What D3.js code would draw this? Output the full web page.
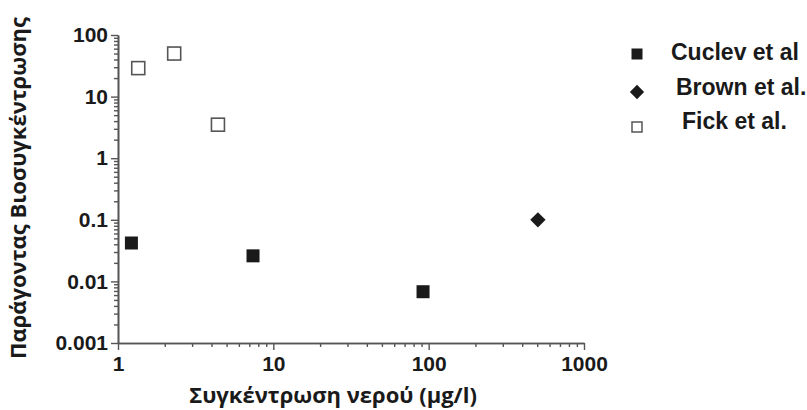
<!DOCTYPE html>
<html>
<head>
<meta charset="utf-8">
<script src="https://cdn.jsdelivr.net/npm/d3@7"></script>
<style>
  html, body { margin: 0; padding: 0; background: #fff; }
  svg { display: block; }
</style>
</head>
<body>
<svg id="chart" width="807" height="410"></svg>
<script>
// ---- data ----
const seriesNames = ["Cuclev et al", "Brown et al.", "Fick et al."];
const cuclevX = [1.22, 7.4, 92];
const cuclevY = [0.042, 0.026, 0.0068];
const brownX = [505];
const brownY = [0.1];
const fickX = [1.35, 2.3, 4.4];
const fickY = [29, 50, 3.5];
const xTickValues = [1, 10, 100, 1000];
const xTickLabels = ["1", "10", "100", "1000"];
const yTickValues = [0.001, 0.01, 0.1, 1, 10, 100];
const yTickLabels = ["0.001", "0.01", "0.1", "1", "10", "100"];
const xTitle = "Συγκέντρωση νερού (μg/l)";
const yTitle = "Παράγοντας Βιοσυγκέντρωσης";

// ---- layout ----
const svg = d3.select("#chart");
const x = d3.scaleLog().domain([1, 1000]).range([118, 584]);
const y = d3.scaleLog().domain([0.001, 100]).range([343, 35]);
const axisColor = "#555";
const tickFont = "bold 21px 'Liberation Sans', Arial, sans-serif";

function minorTicks(lo, hi) {
  const out = [];
  for (let d = lo; d < hi; d *= 10) for (let k = 2; k <= 9; k++) out.push(d * k);
  return out;
}

// minor ticks
const gxMinor = svg.append("g").attr("transform", "translate(0,343)")
  .call(d3.axisBottom(x).tickValues(minorTicks(1, 1000)).tickFormat("").tickSize(4).tickSizeOuter(0));
const gyMinor = svg.append("g").attr("transform", "translate(118,0)")
  .call(d3.axisLeft(y).tickValues(minorTicks(0.001, 100)).tickFormat("").tickSize(4).tickSizeOuter(0));

// major axes
const gx = svg.append("g").attr("transform", "translate(0,343)")
  .call(d3.axisBottom(x).tickValues(xTickValues).tickFormat((d, i) => xTickLabels[i]).tickSize(7).tickSizeOuter(0).tickPadding(6));
const gy = svg.append("g").attr("transform", "translate(118,0)")
  .call(d3.axisLeft(y).tickValues(yTickValues).tickFormat((d, i) => yTickLabels[i]).tickSize(7).tickSizeOuter(0).tickPadding(3));

[gxMinor, gyMinor, gx, gy].forEach(g => {
  g.selectAll("path.domain").attr("stroke", axisColor).attr("stroke-width", 1.6);
  g.selectAll(".tick line").attr("stroke", axisColor).attr("stroke-width", 1.4);
});
gx.selectAll(".tick text").style("font", tickFont).attr("fill", "#1a1a1a");
gy.selectAll(".tick text").style("font", tickFont).attr("fill", "#1a1a1a");

// axis titles
svg.append("text")
  .attr("x", 333).attr("y", 403)
  .attr("text-anchor", "middle")
  .style("font", "bold 22px 'Open Sans', 'Noto Sans', sans-serif")
  .attr("fill", "#1a1a1a")
  .text(xTitle);
svg.append("text")
  .attr("transform", "translate(26,188) rotate(-90)")
  .attr("text-anchor", "middle")
  .style("font", "bold 22px 'Open Sans', 'Noto Sans', sans-serif")
  .attr("fill", "#1a1a1a")
  .text(yTitle);

// ---- marks ----
const sq = 13;
svg.append("g").selectAll("rect").data(cuclevX.map((v, i) => [v, cuclevY[i]])).join("rect")
  .attr("x", d => x(d[0]) - sq / 2).attr("y", d => y(d[1]) - sq / 2)
  .attr("width", sq).attr("height", sq).attr("fill", "#1a1a1a");

const diamond = d3.symbol().type(d3.symbolDiamond2).size(150);
svg.append("g").selectAll("path").data(brownX.map((v, i) => [v, brownY[i]])).join("path")
  .attr("transform", d => `translate(${x(d[0])},${y(d[1])})`)
  .attr("d", diamond).attr("fill", "#1a1a1a");

const osq = 13;
svg.append("g").selectAll("rect").data(fickX.map((v, i) => [v, fickY[i]])).join("rect")
  .attr("x", d => x(d[0]) - osq / 2).attr("y", d => y(d[1]) - osq / 2)
  .attr("width", osq).attr("height", osq).attr("fill", "#fff")
  .attr("stroke", "#555").attr("stroke-width", 1.6);

// ---- legend ----
const legendFont = "bold 23px 'Liberation Sans', Arial, sans-serif";
const leg = svg.append("g");
const legRows = [
  { name: seriesNames[0], y: 54, ty: 54, tx: 671 },
  { name: seriesNames[1], y: 92, ty: 89, tx: 676 },
  { name: seriesNames[2], y: 127, ty: 123, tx: 682 }
];
leg.append("rect").attr("x", 637 - 5.5).attr("y", legRows[0].y - 5.5).attr("width", 11).attr("height", 11).attr("fill", "#1a1a1a");
leg.append("path").attr("transform", `translate(637,${legRows[1].y})`).attr("d", d3.symbol().type(d3.symbolDiamond2).size(130)).attr("fill", "#1a1a1a");
leg.append("rect").attr("x", 637 - 5).attr("y", legRows[2].y - 5).attr("width", 10).attr("height", 10).attr("fill", "#fff").attr("stroke", "#555").attr("stroke-width", 1.5);
leg.selectAll("text").data(legRows).join("text")
  .attr("x", d => d.tx).attr("y", d => d.ty)
  .attr("dominant-baseline", "middle")
  .style("font", legendFont).attr("fill", "#1a1a1a")
  .text(d => d.name);
</script>
</body>
</html>
